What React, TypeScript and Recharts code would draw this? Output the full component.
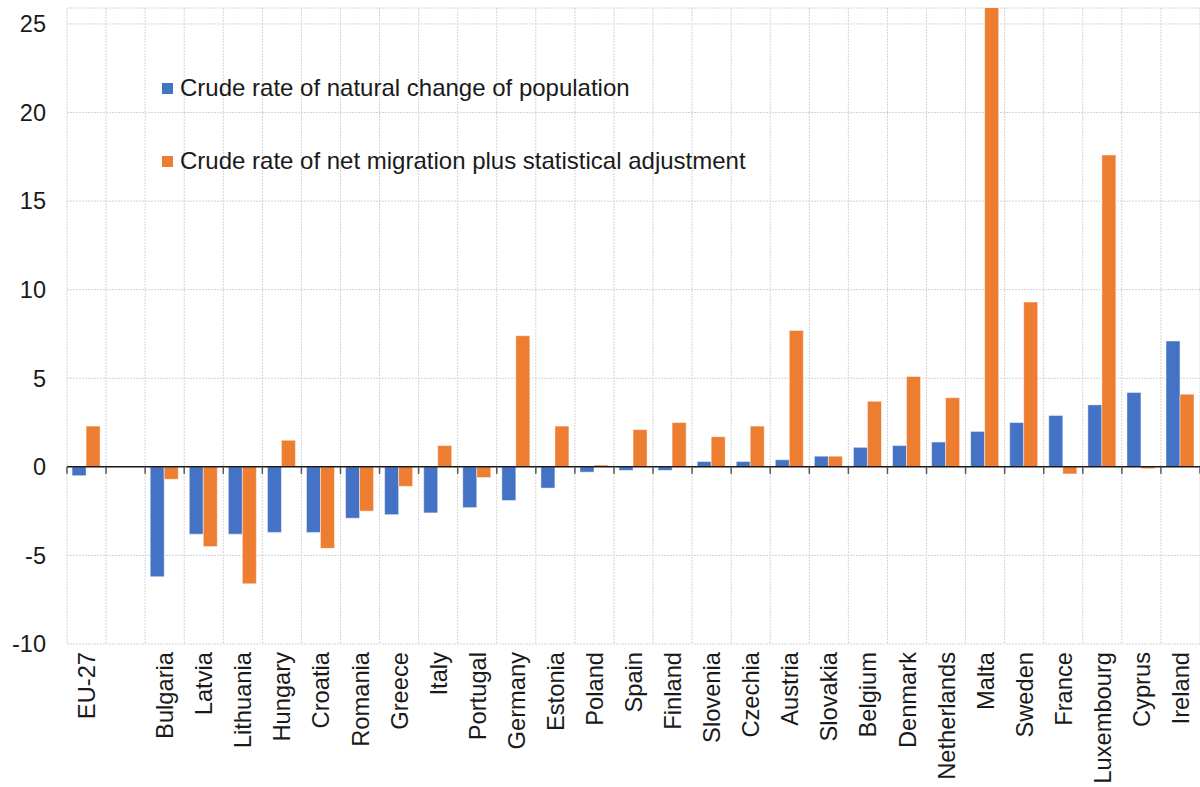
import { ComposedChart, Bar, XAxis, YAxis, CartesianGrid, ReferenceLine, Legend } from 'recharts';

const categories = [
  'EU-27', '', 'Bulgaria', 'Latvia', 'Lithuania', 'Hungary', 'Croatia', 'Romania', 'Greece', 'Italy',
  'Portugal', 'Germany', 'Estonia', 'Poland', 'Spain', 'Finland', 'Slovenia', 'Czechia', 'Austria',
  'Slovakia', 'Belgium', 'Denmark', 'Netherlands', 'Malta', 'Sweden', 'France', 'Luxembourg', 'Cyprus', 'Ireland',
];

const naturalChange = [
  -0.5, null, -6.2, -3.8, -3.8, -3.7, -3.7, -2.9, -2.7, -2.6,
  -2.3, -1.9, -1.2, -0.3, -0.2, -0.2, 0.3, 0.3, 0.4,
  0.6, 1.1, 1.2, 1.4, 2.0, 2.5, 2.9, 3.5, 4.2, 7.1,
];

const netMigration = [
  2.3, null, -0.7, -4.5, -6.6, 1.5, -4.6, -2.5, -1.1, 1.2,
  -0.6, 7.4, 2.3, 0.1, 2.1, 2.5, 1.7, 2.3, 7.7,
  0.6, 3.7, 5.1, 3.9, 26.0, 9.3, -0.4, 17.6, -0.1, 4.1,
];

const yTicks = [-10, -5, 0, 5, 10, 15, 20, 25];

const seriesNames = [
  'Crude rate of natural change of population',
  'Crude rate of net migration plus statistical adjustment',
];

const BLUE = '#4472C4';
const ORANGE = '#ED7D31';
const FONT = '"Liberation Sans", Arial, sans-serif';

const data = categories.map((name, i) => ({
  name,
  natural: naturalChange[i],
  migration: netMigration[i],
}));

function CountryTick({ x, y, payload }: any) {
  return (
    <text
      x={x}
      y={y}
      transform={`rotate(-90, ${x}, ${y})`}
      textAnchor="end"
      dy="0.36em"
      fontSize={23.7}
      fontFamily={FONT}
      fill="#1a1a1a"
    >
      {payload.value}
    </text>
  );
}

// little tick marks under the zero line, one per category boundary
function ZeroTicks({ viewBox }: any) {
  if (!viewBox) return null;
  const { x, y, width } = viewBox;
  const step = width / categories.length;
  return (
    <g>
      {categories.map((_, i) => (
        <line key={i} x1={x + i * step} x2={x + i * step} y1={y} y2={y + 7} stroke="#595959" strokeWidth={1.5} />
      ))}
      <line x1={x + width} x2={x + width} y1={y} y2={y + 7} stroke="#595959" strokeWidth={1.5} />
    </g>
  );
}

function LegendBox({ payload }: any) {
  return (
    <div style={{ fontFamily: FONT, fontSize: 24, color: '#1a1a1a' }}>
      {(payload || []).map((p: any, i: number) => (
        <div key={i} style={{ display: 'flex', alignItems: 'center', height: 26, marginBottom: i === 0 ? 47 : 0 }}>
          <span style={{ display: 'inline-block', width: 11, height: 11, background: p.color, marginRight: 7 }} />
          <span style={{ whiteSpace: 'nowrap' }}>{p.value}</span>
        </div>
      ))}
    </div>
  );
}

export default function App() {
  return (
    <div style={{ position: 'absolute', left: 0, top: 0, width: 1200, height: 787, background: '#fff' }}>
      <ComposedChart
        width={1200}
        height={787}
        data={data}
        margin={{ top: 8, right: 0, bottom: 0, left: 0 }}
        barCategoryGap="13%"
        barGap={0}
      >
        <CartesianGrid
          stroke="#d4d4d4"
          strokeDasharray="2 1"
          verticalCoordinatesGenerator={({ offset }: any) =>
            categories.map((_, i) => offset.left + (i * offset.width) / categories.length).concat(offset.left + offset.width)
          }
        />
        <XAxis
          dataKey="name"
          interval={0}
          height={143}
          tickLine={false}
          axisLine={false}
          tick={<CountryTick />}
        />
        <YAxis
          width={67}
          domain={[-10, 25.9]}
          ticks={yTicks}
          allowDataOverflow
          tickLine={false}
          axisLine={false}
          tickMargin={15}
          tick={{ fontSize: 23.5, fontFamily: FONT, fill: '#1a1a1a' }}
        />
        <Legend
          layout="vertical"
          align="center"
          verticalAlign="middle"
          wrapperStyle={{ left: 162, top: 75, width: 'auto' }}
          content={<LegendBox />}
        />
        <Bar
          dataKey="natural"
          name={seriesNames[0]}
          fill={BLUE}
          stroke="#ffffff"
          strokeOpacity={0.45}
          strokeWidth={1}
          isAnimationActive={false}
        />
        <Bar
          dataKey="migration"
          name={seriesNames[1]}
          fill={ORANGE}
          stroke="#ffffff"
          strokeOpacity={0.45}
          strokeWidth={1}
          isAnimationActive={false}
        />
        <ReferenceLine y={0} stroke="#1a1a1a" strokeWidth={1.5} label={<ZeroTicks />} />
      </ComposedChart>
    </div>
  );
}
